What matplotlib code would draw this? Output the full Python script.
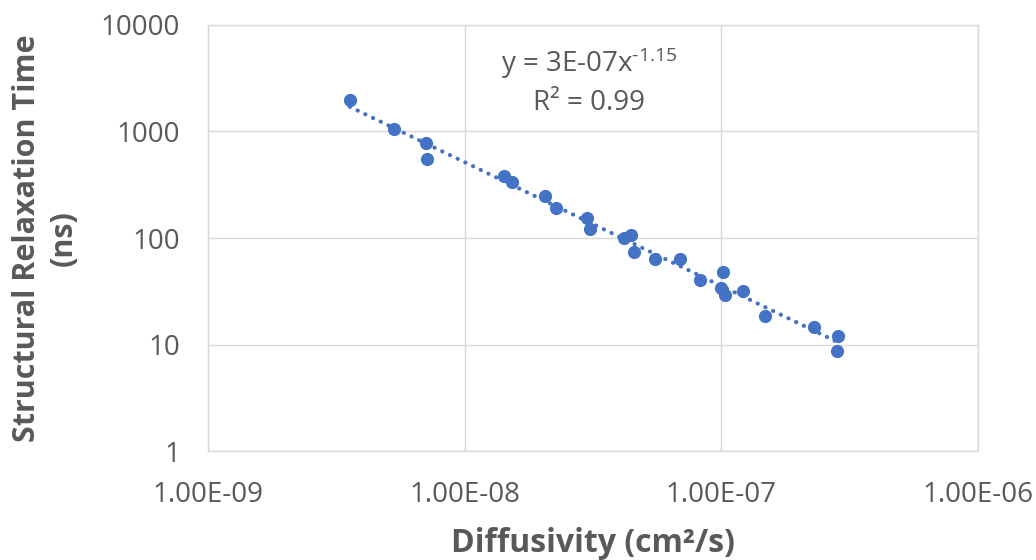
import numpy as np
import matplotlib
matplotlib.use("Agg")
from matplotlib import pyplot as plt
from matplotlib.ticker import FixedLocator, FuncFormatter, NullLocator

#
# Data
#
diffusivity = [3.57e-9, 5.31e-9, 7.05e-9, 7.16e-9, 1.42e-8, 1.535e-8, 2.05e-8, 2.26e-8,
               3.00e-8, 3.09e-8, 4.17e-8, 4.43e-8, 4.56e-8, 5.53e-8, 6.93e-8, 8.24e-8,
               1.016e-7, 9.97e-8, 1.037e-7, 1.22e-7, 1.48e-7, 2.29e-7, 2.86e-7, 2.82e-7]
relax_time = [1959, 1045, 783, 553, 378, 333, 250, 191,
              154, 122, 100, 107, 74.8, 63.5, 63.5, 40.3,
              48.5, 34.3, 29.1, 31.9, 18.6, 14.6, 12.05, 8.7]
x_ticks = [1e-9, 1e-8, 1e-7, 1e-6]
y_ticks = [1, 10, 100, 1000, 10000]

BLUE = "#4472C4"
TEXT = "#595959"
GRID = "#D9D9D9"

plt.rcParams["font.family"] = ["Open Sans", "DejaVu Sans"]
plt.rcParams["mathtext.fontset"] = "custom"
plt.rcParams["mathtext.rm"] = "Open Sans"
plt.rcParams["mathtext.it"] = "Open Sans"

fig = plt.figure(figsize=(10.36, 5.6), dpi=100)
ax = fig.add_axes([0.2008, 0.1938, 0.7432, 0.7621])

# Power trendline fitted in log space
lx = np.log10(diffusivity)
ly = np.log10(relax_time)
slope, icpt = np.polyfit(lx, ly, 1)
xs = np.logspace(lx.min(), lx.max(), 50)
ax.plot(xs, 10 ** icpt * xs ** slope, color=BLUE, linestyle=(0, (0.05, 2.0)),
        linewidth=3.0, dash_capstyle="round", solid_capstyle="round", zorder=2)

ax.plot(diffusivity, relax_time, "o", color=BLUE, markersize=8.5, zorder=3)

ax.set_xscale("log")
ax.set_yscale("log")
ax.set_xlim(x_ticks[0], x_ticks[-1])
ax.set_ylim(y_ticks[0], y_ticks[-1])
ax.xaxis.set_major_locator(FixedLocator(x_ticks))
ax.yaxis.set_major_locator(FixedLocator(y_ticks))
ax.xaxis.set_minor_locator(NullLocator())
ax.yaxis.set_minor_locator(NullLocator())
ax.xaxis.set_major_formatter(FuncFormatter(lambda v, p: "%.2E" % v))
ax.yaxis.set_major_formatter(FuncFormatter(lambda v, p: "%d" % v))
ax.tick_params(length=0, labelcolor=TEXT, labelsize=20)
ax.tick_params(axis="x", pad=21)
ax.tick_params(axis="y", pad=20)

ax.grid(True, color=GRID, linewidth=1)
for spine in ax.spines.values():
    spine.set_edgecolor(GRID)
    spine.set_linewidth(1)

ax.set_xlabel("Diffusivity (cm²/s)", color=TEXT, fontsize=23, fontweight="bold", labelpad=13)
ax.set_ylabel("Structural Relaxation Time\n(ns)", color=TEXT, fontsize=22,
              fontweight="bold", labelpad=16, linespacing=1.3)

ax.text(0.495, 0.889, r"y = 3E-07x$^{\text{-1.15}}$", transform=ax.transAxes, ha="center",
        va="baseline", color=TEXT, fontsize=20)
ax.text(0.495, 0.80, "R² = 0.99", transform=ax.transAxes, ha="center",
        va="baseline", color=TEXT, fontsize=20)

fig.savefig("out.png", dpi=100)
plt.close(fig)
